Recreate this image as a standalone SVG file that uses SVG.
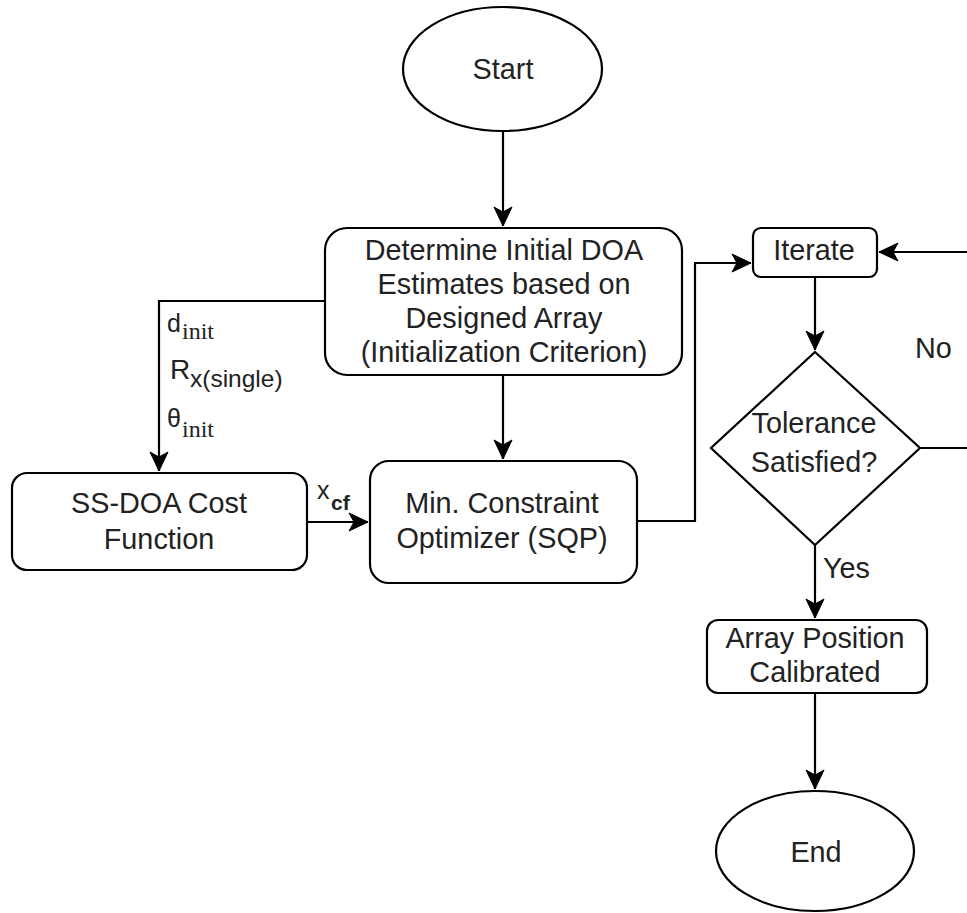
<svg xmlns="http://www.w3.org/2000/svg" width="967" height="913" viewBox="0 0 967 913">
<defs>
<style>
.shape{fill:#fff;stroke:#000;stroke-width:2.2}
.conn{fill:none;stroke:#000;stroke-width:2.2}
.t{font-family:"Liberation Sans",Arial,sans-serif;font-size:28.8px;fill:#222;text-anchor:middle}
.lbl{font-family:"Liberation Sans",Arial,sans-serif;fill:#222}
.ser{font-family:"Liberation Serif","Times New Roman",serif;fill:#222}
</style>
<marker id="arr" markerUnits="userSpaceOnUse" markerWidth="24" markerHeight="24" viewBox="-22 -11 24 22" refX="0" refY="0" orient="auto">
<path d="M0,0 L-19,-9 L-14,0 L-19,9 Z" fill="#000" stroke="#000" stroke-width="1"/>
</marker>
</defs>
<rect width="967" height="913" fill="#fff"/>

<g id="connectors">
<path class="conn" d="M503,131 V226" marker-end="url(#arr)"/>
<path class="conn" d="M325,301 H159 V471" marker-end="url(#arr)"/>
<path class="conn" d="M503,375 V459" marker-end="url(#arr)"/>
<path class="conn" d="M307,522 H368" marker-end="url(#arr)"/>
<path class="conn" d="M637,521 H695 V263 H751" marker-end="url(#arr)"/>
<path class="conn" d="M815,277 V350" marker-end="url(#arr)"/>
<path class="conn" d="M920,448 H990 V252 H879" marker-end="url(#arr)"/>
<path class="conn" d="M815,545 V618" marker-end="url(#arr)"/>
<path class="conn" d="M815,693 V789" marker-end="url(#arr)"/>
</g>

<g id="labels">
<text class="lbl" x="167" y="332" font-size="25">d</text>
<text class="ser" x="182" y="339" font-size="24">init</text>
<text class="lbl" x="170" y="379" font-size="28">R</text>
<text class="lbl" x="190" y="387" font-size="24.5">x(single)</text>
<text class="lbl" x="167" y="427" font-size="25">θ</text>
<text class="ser" x="182" y="437" font-size="24">init</text>
<text class="lbl" x="317" y="499" font-size="25">x</text>
<text class="lbl" x="331" y="510" font-size="21" font-weight="bold">cf</text>
<text class="lbl" x="915" y="358" font-size="28.8">No</text>
<text class="lbl" x="823" y="578" font-size="28.8">Yes</text>
</g>

<g id="start">
<ellipse class="shape" cx="502.5" cy="69" rx="99.5" ry="62"/>
<text class="t" x="503" y="79">Start</text>
</g>

<g id="determine">
<rect class="shape" x="325" y="228" width="357" height="147" rx="22" ry="22"/>
<text class="t" x="504" y="260">Determine Initial DOA</text>
<text class="t" x="504" y="294">Estimates based on</text>
<text class="t" x="504" y="328">Designed Array</text>
<text class="t" x="504" y="362">(Initialization Criterion)</text>
</g>

<g id="ssdoa">
<rect class="shape" x="12" y="473" width="295" height="97" rx="15" ry="15"/>
<text class="t" x="159" y="513">SS-DOA Cost</text>
<text class="t" x="159" y="549">Function</text>
</g>

<g id="optimizer">
<rect class="shape" x="370" y="461" width="267" height="122" rx="19" ry="19"/>
<text class="t" x="502" y="513">Min. Constraint</text>
<text class="t" x="502" y="548">Optimizer (SQP)</text>
</g>

<g id="iterate">
<rect class="shape" x="753" y="228" width="124" height="49" rx="8" ry="8"/>
<text class="t" x="814" y="260">Iterate</text>
</g>

<g id="tolerance">
<polygon class="shape" points="815,352 920,448 815,545 711,448"/>
<text class="t" x="814" y="433">Tolerance</text>
<text class="t" x="814" y="472">Satisfied?</text>
</g>

<g id="calibrated">
<rect class="shape" x="707" y="620" width="220" height="73" rx="11" ry="11"/>
<text class="t" x="815" y="648">Array Position</text>
<text class="t" x="815" y="682">Calibrated</text>
</g>

<g id="end">
<ellipse class="shape" cx="815" cy="851" rx="99" ry="60"/>
<text class="t" x="816" y="862">End</text>
</g>
</svg>
